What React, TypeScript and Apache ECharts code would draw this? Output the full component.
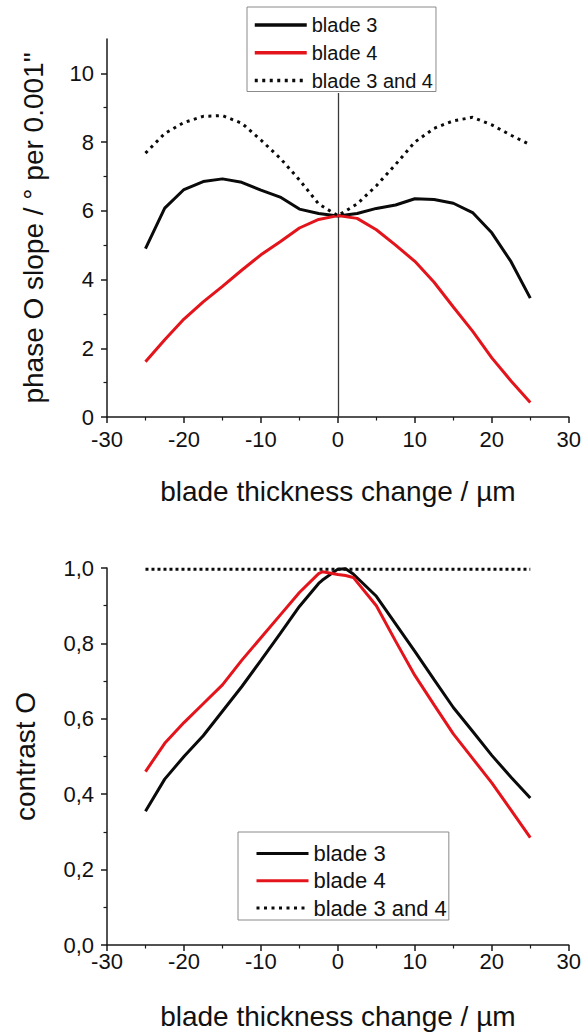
import { useEffect, useRef } from "react";
import * as echarts from "echarts";

// ---------- data ----------
const thicknessTop = [-25, -22.5, -20, -17.5, -15, -12.5, -10, -7.5, -5, -2.5, 0, 2.5, 5, 7.5, 10, 12.5, 15, 17.5, 20, 22.5, 25];
const slopeBlade3 = [4.9, 6.08, 6.62, 6.85, 6.93, 6.83, 6.6, 6.4, 6.05, 5.92, 5.85, 5.92, 6.07, 6.17, 6.35, 6.33, 6.22, 5.95, 5.36, 4.52, 3.46];
const slopeBlade4 = [1.61, 2.25, 2.85, 3.35, 3.8, 4.27, 4.72, 5.1, 5.5, 5.75, 5.86, 5.78, 5.45, 5.0, 4.53, 3.92, 3.2, 2.5, 1.72, 1.05, 0.42];
const slopeBoth = [7.68, 8.25, 8.57, 8.75, 8.77, 8.55, 8.06, 7.53, 6.9, 6.2, 5.86, 6.2, 6.73, 7.35, 8.0, 8.4, 8.62, 8.72, 8.5, 8.2, 7.92];

const thicknessBottom = [-25, -22.5, -20, -17.5, -15, -12.5, -10, -7.5, -5, -2.5, -2, 0, 1, 2, 5, 7.5, 10, 12.5, 15, 17.5, 20, 22.5, 25];
const contrastBlade3 = [0.355, 0.44, 0.5, 0.555, 0.62, 0.685, 0.755, 0.826, 0.898, 0.959, 0.968, 0.997, 0.998, 0.984, 0.925, 0.852, 0.779, 0.704, 0.63, 0.567, 0.503, 0.445, 0.39];
const contrastBlade4 = [0.46, 0.535, 0.59, 0.64, 0.69, 0.755, 0.815, 0.875, 0.935, 0.985, 0.99, 0.983, 0.98, 0.975, 0.9, 0.806, 0.715, 0.637, 0.56, 0.495, 0.43, 0.358, 0.285];
const contrastBoth = [0.997, 0.997, 0.997, 0.997, 0.997, 0.997, 0.997, 0.997, 0.997, 0.997, 0.997, 0.997, 0.997, 0.997, 0.997, 0.997, 0.997, 0.997, 0.997, 0.997, 0.997, 0.997, 0.997];

const seriesNames = ["blade 3", "blade 4", "blade 3 and 4"];
const xTitle = "blade thickness change / µm";
const yTitleTop = 'phase O slope / ° per 0.001"';
const yTitleBottom = "contrast O";
const topMajorTicks = [0, 2, 4, 6, 8, 10];
const topMinorTicks = [1, 3, 5, 7, 9];
// vertical reference line at zero thickness change (runs up to the legend box)
const zeroLine = { x: 0, yFrom: 0, yTo: 9.43 };

// ---------- styles ----------
const FONT = "'Liberation Sans', Arial, sans-serif";
const AXIS = "#1a1a1a";
const TXT = "#111111";
const BLACK = "#0a0a0a";
const RED = "#e3141b";

const zip = (xs: number[], ys: number[]) => xs.map((x, i) => [x, ys[i]]);

const xAxisBase = (gridIndex: number, labelMargin: number, nameGap: number) => ({
  type: "value",
  gridIndex,
  min: -30,
  max: 30,
  interval: 10,
  axisLine: { onZero: false, lineStyle: { color: AXIS, width: 1.5 } },
  axisTick: { length: 6, lineStyle: { color: AXIS, width: 1.5 } },
  minorTick: { show: true, splitNumber: 2, length: 3.5, lineStyle: { color: AXIS, width: 1.2 } },
  splitLine: { show: false },
  axisLabel: { fontSize: 22, lineHeight: 16, color: TXT, fontFamily: FONT, margin: labelMargin },
  name: xTitle,
  nameLocation: "middle",
  nameGap,
  nameTextStyle: { fontSize: 28, color: TXT, fontFamily: FONT },
});

const legendBase = {
  data: seriesNames,
  orient: "vertical",
  borderColor: "#8a8a8a",
  borderWidth: 1,
  borderRadius: 0,
  backgroundColor: "#ffffff",
  itemStyle: { opacity: 0 },
  selectedMode: false,
  z: 10,
};

export default function App() {
  const ref = useRef<HTMLDivElement>(null);
  useEffect(() => {
    document.body.style.margin = "0";
    const chart = echarts.init(ref.current!, null, { renderer: "svg" });
    const option: any = {
      animation: false,
      backgroundColor: "#ffffff",
      grid: [
        { left: 107, right: 12, top: 39, height: 378 },
        { left: 107, right: 12, top: 568, height: 377 },
      ],
      xAxis: [xAxisBase(0, 14, 60), xAxisBase(1, 8, 57)],
      yAxis: [
        {
          type: "value",
          gridIndex: 0,
          min: 0,
          max: 11,
          interval: 1,
          axisLine: { onZero: false, lineStyle: { color: AXIS, width: 1.5 } },
          axisTick: { length: 6, customValues: topMajorTicks, lineStyle: { color: AXIS, width: 1.5 } },
          splitLine: { show: false },
          axisLabel: {
            fontSize: 22,
            lineHeight: 16,
            color: TXT,
            fontFamily: FONT,
            margin: 13,
            customValues: topMajorTicks,
            formatter: (v: number) => (topMajorTicks.indexOf(v) >= 0 ? String(v) : ""),
          },
          name: yTitleTop,
          nameLocation: "middle",
          nameGap: 60,
          nameTextStyle: { fontSize: 28, color: TXT, fontFamily: FONT },
        },
        {
          type: "value",
          gridIndex: 0,
          position: "left",
          min: 0,
          max: 11,
          interval: 1,
          axisLine: { show: false, onZero: false },
          axisTick: { length: 3.5, customValues: topMinorTicks, lineStyle: { color: AXIS, width: 1.2 } },
          axisLabel: { show: false },
          splitLine: { show: false },
        },
        {
          type: "value",
          gridIndex: 1,
          min: 0,
          max: 1,
          interval: 0.2,
          axisLine: { onZero: false, lineStyle: { color: AXIS, width: 1.5 } },
          axisTick: { length: 6, lineStyle: { color: AXIS, width: 1.5 } },
          minorTick: { show: true, splitNumber: 2, length: 3.5, lineStyle: { color: AXIS, width: 1.2 } },
          splitLine: { show: false },
          axisLabel: {
            fontSize: 22,
            lineHeight: 16,
            color: TXT,
            fontFamily: FONT,
            margin: 13,
            formatter: (v: number) => v.toFixed(1).replace(".", ","),
          },
          name: yTitleBottom,
          nameLocation: "middle",
          nameGap: 68,
          nameTextStyle: { fontSize: 28, color: TXT, fontFamily: FONT },
        },
      ],
      legend: [
        {
          ...legendBase,
          left: 247,
          top: 7,
          itemWidth: 52,
          itemHeight: 20,
          itemGap: 7.75,
          padding: [8, 3, 1, 6],
          lineStyle: { width: 3.5 },
          textStyle: { fontSize: 20, lineHeight: 20, color: TXT, fontFamily: FONT },
        },
        {
          ...legendBase,
          left: 238,
          top: 832,
          itemWidth: 52,
          itemHeight: 22,
          itemGap: 5.25,
          padding: [10.5, 2, 1, 17],
          lineStyle: { width: 3 },
          textStyle: { fontSize: 22, lineHeight: 22, color: TXT, fontFamily: FONT },
        },
      ],
      series: [
        {
          name: seriesNames[0],
          type: "line",
          xAxisIndex: 0,
          yAxisIndex: 0,
          data: zip(thicknessTop, slopeBlade3),
          symbol: "none",
          lineStyle: { color: BLACK, width: 3 },
          itemStyle: { color: BLACK },
          markLine: {
            silent: true,
            z: 1,
            symbol: ["none", "none"],
            label: { show: false },
            lineStyle: { color: "#3a3a3a", width: 1.3, type: "solid" },
            data: [[{ coord: [zeroLine.x, zeroLine.yFrom] }, { coord: [zeroLine.x, zeroLine.yTo] }]],
          },
        },
        {
          name: seriesNames[1],
          type: "line",
          xAxisIndex: 0,
          yAxisIndex: 0,
          data: zip(thicknessTop, slopeBlade4),
          symbol: "none",
          lineStyle: { color: RED, width: 3 },
          itemStyle: { color: RED },
        },
        {
          name: seriesNames[2],
          type: "line",
          xAxisIndex: 0,
          yAxisIndex: 0,
          data: zip(thicknessTop, slopeBoth),
          symbol: "none",
          lineStyle: { color: BLACK, width: 3, type: [3, 4.5] },
          itemStyle: { color: BLACK },
        },
        {
          name: seriesNames[0],
          type: "line",
          xAxisIndex: 1,
          yAxisIndex: 2,
          data: zip(thicknessBottom, contrastBlade3),
          symbol: "none",
          lineStyle: { color: BLACK, width: 3 },
          itemStyle: { color: BLACK },
        },
        {
          name: seriesNames[1],
          type: "line",
          xAxisIndex: 1,
          yAxisIndex: 2,
          data: zip(thicknessBottom, contrastBlade4),
          symbol: "none",
          lineStyle: { color: RED, width: 3 },
          itemStyle: { color: RED },
        },
        {
          name: seriesNames[2],
          type: "line",
          xAxisIndex: 1,
          yAxisIndex: 2,
          data: zip(thicknessBottom, contrastBoth),
          symbol: "none",
          lineStyle: { color: BLACK, width: 3, type: [3, 3] },
          itemStyle: { color: BLACK },
        },
      ],
    };
    chart.setOption(option);
    return () => chart.dispose();
  }, []);
  return <div ref={ref} style={{ width: 584, height: 1034 }} />;
}
